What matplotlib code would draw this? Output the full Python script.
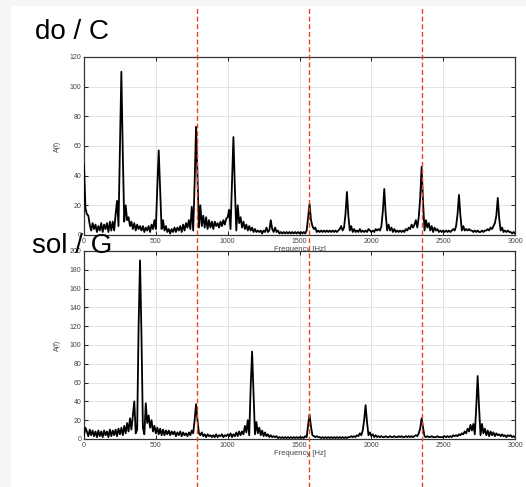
import numpy as np
import matplotlib
matplotlib.use("Agg")
import matplotlib.pyplot as plt
from matplotlib.lines import Line2D
from matplotlib.patches import Rectangle
from matplotlib.transforms import blended_transform_factory

plt.rcParams['font.family'] = ['Liberation Sans', 'DejaVu Sans']

# spectra sampled every 10 Hz, 0..3000 Hz
freq = np.arange(0, 3001, 10)

do_amp = [
    47, 18, 14, 13, 7, 3, 8, 4, 7, 2,
    6, 3, 8, 2, 7, 4, 8, 2, 9, 3,
    9, 3, 14, 23, 6, 60, 110, 55, 9, 20,
    10, 12, 6, 9, 4, 8, 3, 7, 4, 6,
    3, 6, 2, 5, 3, 6, 2, 7, 4, 10,
    4, 32, 57, 30, 4, 10, 3, 6, 2, 4,
    1, 4, 2, 5, 2, 5, 3, 6, 2, 7,
    3, 8, 5, 10, 4, 19, 3, 35, 73, 38,
    5, 20, 6, 13, 5, 12, 4, 10, 5, 9,
    4, 9, 6, 8, 5, 9, 6, 10, 7, 11,
    12, 17, 4, 35, 66, 32, 3, 20, 8, 12,
    5, 9, 4, 7, 3, 6, 3, 5, 2, 4,
    2, 3, 2, 3, 1, 3, 2, 5, 2, 3,
    10, 4, 2, 5, 2, 3, 1, 2, 1, 2,
    1, 2, 1, 2, 1, 2, 1, 2, 1, 2,
    1, 2, 1, 2, 1, 3, 12, 21, 10, 6,
    4, 5, 2, 3, 2, 3, 2, 3, 2, 3,
    2, 3, 2, 3, 2, 3, 2, 3, 4, 6,
    3, 5, 14, 29, 13, 3, 6, 2, 4, 2,
    3, 2, 4, 2, 3, 2, 3, 2, 4, 3,
    2, 3, 2, 4, 3, 4, 3, 6, 16, 31,
    14, 3, 7, 3, 5, 2, 4, 2, 3, 2,
    3, 2, 3, 2, 4, 3, 5, 4, 7, 5,
    7, 10, 5, 12, 25, 46, 22, 3, 10, 5,
    8, 3, 6, 2, 5, 3, 4, 2, 3, 2,
    3, 2, 3, 2, 3, 2, 3, 4, 3, 6,
    14, 27, 13, 3, 6, 3, 4, 3, 4, 3,
    3, 2, 3, 2, 3, 2, 2, 3, 2, 3,
    3, 4, 3, 5, 4, 6, 8, 13, 25, 11,
    3, 5, 2, 3, 2, 3, 2, 2, 1, 2,
    1,
]

sol_amp = [
    4, 12, 8, 3, 10, 4, 9, 3, 8, 2,
    9, 3, 8, 2, 9, 4, 8, 2, 10, 3,
    9, 4, 10, 3, 11, 5, 12, 4, 14, 6,
    17, 8, 22, 10, 25, 40, 6, 10, 120, 190,
    110, 12, 5, 38, 17, 25, 12, 20, 8, 14,
    6, 12, 5, 11, 4, 10, 4, 9, 5, 9,
    4, 8, 5, 8, 3, 7, 4, 8, 3, 7,
    4, 6, 3, 7, 4, 9, 6, 20, 37, 20,
    6, 4, 7, 3, 5, 2, 5, 3, 4, 2,
    4, 2, 5, 2, 4, 3, 5, 2, 4, 3,
    5, 3, 6, 2, 5, 3, 7, 3, 8, 4,
    8, 5, 14, 7, 20, 4, 55, 93, 50, 5,
    18, 6, 12, 4, 9, 3, 7, 3, 5, 2,
    4, 2, 3, 2, 3, 1, 2, 1, 2, 1,
    2, 1, 2, 1, 2, 1, 2, 1, 2, 1,
    2, 1, 2, 1, 3, 2, 15, 26, 13, 4,
    3, 2, 3, 2, 2, 1, 2, 1, 2, 1,
    2, 1, 2, 1, 2, 1, 2, 1, 2, 1,
    2, 1, 2, 1, 2, 2, 3, 2, 3, 2,
    4, 3, 6, 4, 9, 20, 36, 18, 4, 7,
    3, 5, 2, 4, 2, 3, 2, 3, 2, 2,
    3, 2, 2, 3, 2, 2, 3, 2, 2, 3,
    2, 3, 2, 2, 3, 2, 3, 2, 3, 2,
    3, 4, 3, 6, 11, 22, 12, 3, 2, 3,
    2, 2, 3, 2, 2, 2, 3, 2, 2, 2,
    2, 3, 2, 3, 2, 3, 2, 4, 3, 4,
    3, 5, 4, 6, 5, 8, 6, 11, 8, 15,
    9, 16, 5, 33, 67, 33, 4, 16, 6, 11,
    4, 9, 3, 8, 4, 7, 3, 6, 4, 5,
    3, 5, 3, 4, 2, 4, 3, 4, 2, 3,
    2,
]

# harmonics shared by both notes
shared = [784, 1568, 2352]

x_ticks = [0, 500, 1000, 1500, 2000, 2500, 3000]
do_yticks = list(range(0, 121, 20))
sol_yticks = list(range(0, 201, 20))


def decorate(ax, ys, yticks):
    ax.plot(freq, ys, color="black", linewidth=1.3, zorder=3)
    ax.set_xlim(0, 3000)
    ax.set_ylim(yticks[0], yticks[-1])
    ax.set_xticks(x_ticks)
    ax.set_yticks(yticks)
    ax.grid(True, color="#e4e4e4", linewidth=0.7)
    ax.set_axisbelow(True)
    ax.tick_params(direction="in", length=3, width=0.6, top=True, right=True,
                   labelsize=5, labelcolor="#444444", pad=2)
    for sp in ax.spines.values():
        sp.set_linewidth(0.9)
        sp.set_color("#333333")
    ax.set_xlabel("Frequency [Hz]", fontsize=5.5, color="#444444", labelpad=1)
    ax.set_ylabel("A(f)", fontsize=5, color="#444444", labelpad=6)


fig = plt.figure(figsize=(5.26, 4.87), dpi=100, facecolor="#f6f6f6")
fig.patches.append(Rectangle((11 / 526, 0), 1, 1 - 6 / 487, transform=fig.transFigure,
                             facecolor="white", edgecolor="none", zorder=-10))

ax1 = fig.add_axes([0.1597, 0.5175, 0.8194, 0.3655])
ax2 = fig.add_axes([0.1597, 0.0986, 0.8194, 0.386])
decorate(ax1, do_amp, do_yticks)
decorate(ax2, sol_amp, sol_yticks)

# dashed markers through the whole figure
tr = blended_transform_factory(ax2.transData, fig.transFigure)
for f in shared:
    fig.lines.append(Line2D([f, f], [0, 1 - 6 / 487], transform=tr, color="#f0402a",
                            linewidth=1.0, linestyle=(0, (3.5, 2)), zorder=5))

fig.text(35 / 526, 1 - 39 / 487, "do / C", fontsize=20, color="black", zorder=6)
fig.text(32 / 526, 1 - 253 / 487, "sol / G", fontsize=20, color="black", zorder=6)

fig.savefig("out.png", dpi=100, facecolor=fig.get_facecolor())
